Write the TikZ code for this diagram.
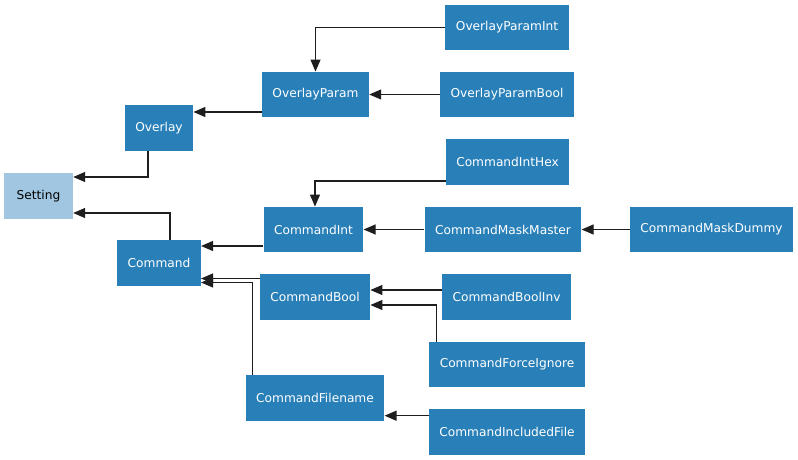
\documentclass[tikz,border=0pt]{standalone}
\usepackage{fontspec}
\setmainfont{DejaVu Sans}
\usetikzlibrary{arrows.meta,calc}
\definecolor{dblue}{RGB}{41,128,185}
\definecolor{lblue}{RGB}{160,198,226}
\definecolor{edgecol}{RGB}{30,30,30}
\begin{document}
\begin{tikzpicture}[x=1pt,y=-1pt,
  cls/.style={fill=dblue,text=white,inner xsep=10.5pt,inner ysep=0pt,minimum height=45.5pt,font=\fontsize{12.2}{14}\selectfont},
  root/.style={cls,fill=lblue,text=black},
  arr/.style={draw=edgecol,line width=1.2pt,-{Triangle[length=12pt,width=10pt]}}]
\useasboundingbox (0,0) rectangle (798,460);
\node[cls] (opi) at (507,27.5) {OverlayParamInt};
\node[cls] (op) at (315.5,94.5) {OverlayParam};
\node[cls] (opb) at (507,94.5) {OverlayParamBool};
\node[cls] (ov) at (159,128) {Overlay};
\node[root,minimum width=69pt] (set) at (38.5,196) {Setting};
\node[cls] (cih) at (507.5,162) {CommandIntHex};
\node[cls] (ci) at (313.5,229.5) {CommandInt};
\node[cls] (cmm) at (503,229.5) {CommandMaskMaster};
\node[cls] (cmd) at (711.5,229.5) {CommandMaskDummy};
\node[cls] (com) at (159,263) {Command};
\node[cls] (cb) at (315,297) {CommandBool};
\node[cls] (cbi) at (506.5,297) {CommandBoolInv};
\node[cls] (cfi) at (507,364.5) {CommandForceIgnore};
\node[cls] (cf) at (315,398) {CommandFilename};
\node[cls] (cif) at (507,432) {CommandIncludedFile};

\draw[arr] (opi.west) -| (op.north);
\draw[arr] (opb.west) -- (op.east);
\coordinate (p1) at ([yshift=-17.5pt]op.west);
\draw[arr] (p1) -- (p1 -| ov.east);
\draw[arr] ([xshift=-11pt]ov.south) |- ([yshift=19pt]set.east);
\draw[arr] ([xshift=11pt]com.north) |- ([yshift=-17pt]set.east);
\draw[arr] ([yshift=-19pt]cih.west) -| ([xshift=1.5pt]ci.north);
\draw[arr] (cmm.west) -- (ci.east);
\draw[arr] (cmd.west) -- (cmm.east);
\coordinate (p2) at ([yshift=-16.5pt]ci.west);
\draw[arr] (p2) -- (p2 -| com.east);
\coordinate (p3) at ([yshift=18.5pt]cb.west);
\draw[arr] (p3) -- (p3 -| com.east);
\draw[arr] ([xshift=-62.3pt]cf.north) |- ([yshift=-19.5pt]com.east);
\coordinate (p4) at ([yshift=7pt]cbi.west);
\draw[arr] (p4) -- (p4 -| cb.east);
\draw[arr] ([xshift=-70.3pt]cfi.north) |- ([yshift=-8pt]cb.east);
\coordinate (p5) at ([yshift=16.3pt]cif.west);
\draw[arr] (p5) -- (p5 -| cf.east);
\end{tikzpicture}
\end{document}
